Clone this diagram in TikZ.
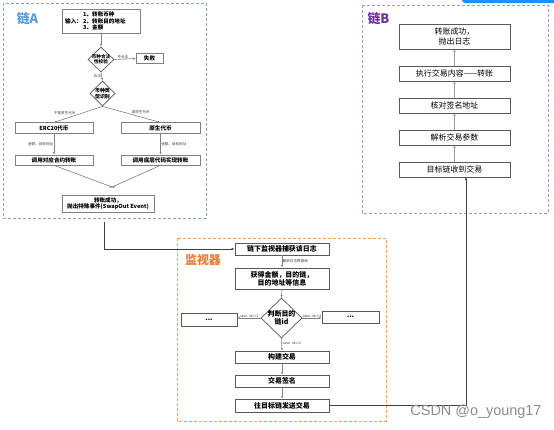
\documentclass[tikz,border=0pt]{standalone}
\usepackage{fontspec}
\setmainfont{Noto Sans CJK SC}
\newfontfamily\csdnfont{Liberation Sans}
\usetikzlibrary{shapes.geometric,arrows.meta,shadows}
\definecolor{frameA}{HTML}{8FA3B8}
\definecolor{labelA}{HTML}{5B9BD5}
\definecolor{frameB}{HTML}{B48FD6}
\definecolor{labelB}{HTML}{7030A0}
\definecolor{frameM}{HTML}{F0A060}
\definecolor{labelM}{HTML}{ED7D31}
\definecolor{boxline}{HTML}{595959}
\definecolor{arrowgray}{HTML}{808080}
\definecolor{topblue}{HTML}{1E90FF}
\tikzset{
  frame/.style={dashed, line width=0.8bp, dash pattern=on 3bp off 2bp},
  boxA/.style={draw=arrowgray, fill=white, line width=0.6bp, inner sep=0pt, align=center,
    font=\bfseries\fontsize{5.6}{6.6}\selectfont, drop shadow={shadow xshift=0.6bp, shadow yshift=-0.6bp, opacity=0.35}},
  boxM/.style={draw=boxline, fill=white, line width=0.7bp, inner sep=0pt, align=center,
    font=\bfseries\fontsize{7}{8.4}\selectfont, drop shadow={shadow xshift=0.7bp, shadow yshift=-0.7bp, opacity=0.35}},
  boxB/.style={draw=boxline, fill=white, line width=0.7bp, inner sep=0pt, align=center,
    font=\fontsize{8}{9.6}\selectfont, drop shadow={shadow xshift=0.8bp, shadow yshift=-0.8bp, opacity=0.35}},
  dia/.style={diamond, draw=boxline, fill=white, line width=0.7bp, inner sep=0pt},
  diatext/.style={align=center, inner sep=0pt},
  tiny/.style={font=\fontsize{3.6}{4}\selectfont, text=black!75, inner sep=0.5bp},
  arrA/.style={draw=arrowgray, line width=0.6bp, -{Latex[length=2.5bp,width=2bp]}},
  lineA/.style={draw=arrowgray, line width=0.6bp},
  arrB/.style={draw=arrowgray!80, line width=1bp, -{Latex[length=2.5bp,width=2.5bp]}},
  arrK/.style={draw=black!75, line width=0.7bp, -{Latex[length=3bp,width=2.5bp]}},
  chainlabel/.style={font=\bfseries\fontsize{13}{14}\selectfont, inner sep=0pt},
}
\begin{document}
\begin{tikzpicture}[x=1bp,y=-1bp]
\useasboundingbox (0,0) rectangle (554,429);
\fill[white] (0,0) rectangle (554,429);
% top blue bar
\fill[topblue, rounded corners=3bp] (462,-10) rectangle (570,3);

% ---------- frames ----------
\draw[frame, draw=frameA] (3,3) rectangle (206,218);
\draw[frame, draw=frameB] (362,5) rectangle (548,213);
\draw[frame, draw=frameM] (177,238) rectangle (386,421);
\node[chainlabel, text=labelA] (labA) at (27.5,18.5) {链A};
\node[chainlabel, text=labelB] (labB) at (378.5,18.5) {链B};
\node[chainlabel, text=labelM, font=\bfseries\fontsize{12}{13}\selectfont] (labM) at (203,260) {监视器};

% ---------- chain A ----------
\node[boxA, minimum width=78bp, minimum height=24bp] (inbox) at (101,21) {};
\node[font=\bfseries\fontsize{5.6}{6.6}\selectfont, inner sep=0pt, anchor=west] (inlab) at (65,21) {输入：};
\node[font=\bfseries\fontsize{5.6}{6.6}\selectfont, inner sep=0pt, anchor=west, align=left] (initems) at (83,21) {1、转账币种\\2、转账目的地址\\3、金额};

\node[dia, minimum width=26bp, minimum height=25bp] (d1) at (101,59.5) {};
\node[diatext, font=\bfseries\fontsize{4.6}{5.4}\selectfont] (d1t) at (d1) {币种合法\\性校验};
\node[boxA, minimum width=27bp, minimum height=10bp] (fail) at (149.5,58.5) {失败};

\node[dia, minimum width=25bp, minimum height=25bp] (d2) at (102.5,93.5) {};
\node[diatext, font=\bfseries\fontsize{5}{5.8}\selectfont] (d2t) at (d2) {币种类\\型识别};

\node[boxA, minimum width=78bp, minimum height=10.5bp] (erc) at (54,128) {ERC20代币};
\node[boxA, minimum width=79bp, minimum height=10.5bp] (nat) at (160.5,128) {原生代币};
\node[boxA, minimum width=78bp, minimum height=10bp] (erc2) at (54,160) {调用对应合约转账};
\node[boxA, minimum width=79bp, minimum height=10bp] (nat2) at (160.5,160) {调用底层代码实现转账};
\coordinate (merge) at (112,187);
\node[boxA, minimum width=92bp, minimum height=17bp] (final) at (108,203.5) {转账成功，\\抛出特殊事件(SwapOut Event)};

\draw[arrA] (inbox.south) -- (d1.north);
\draw[arrA] (d1.east) -- node[tiny, above, pos=0.4] (l1) {不合法} (fail.west);
\draw[arrA] (d1.south) -- node[tiny, left, pos=0.45] (l2) {合法} (d2.north);
\draw[arrA] (d2.south) -- node[tiny, above left, pos=0.55, inner sep=0pt] (l3) {不是原生代币} (erc.north);
\draw[arrA] (d2.south) -- node[tiny, above right, pos=0.5, inner sep=0pt] (l4) {是原生代币} (nat.north);
\draw[arrA] (erc.south) -- node[tiny, left, pos=0.5] (l5) {金额、目标地址} (erc2.north);
\draw[arrA] (nat.south) -- node[tiny, right, pos=0.5] (l6) {金额、目标地址} (nat2.north);
\draw[lineA] (erc2.south) -- (merge);
\draw[lineA] (nat2.south) -- (merge);
\node[tiny, font=\fontsize{3}{3.4}\selectfont] (endlab) at (merge) {end};

% ---------- monitor ----------
\node[boxM, minimum width=94bp, minimum height=12bp] (m1) at (282,249) {链下监视器捕获该日志};
\node[boxM, minimum width=94bp, minimum height=21bp] (m2) at (282,278.5) {获得金额，目的链，\\目的地址等信息};
\node[dia, minimum width=41bp, minimum height=40bp] (md) at (281.5,318) {};
\node[diatext, font=\bfseries\fontsize{7}{8}\selectfont] (mdt) at (md) {判断目的\\链id};
\node[boxM, minimum width=56bp, minimum height=13bp] (mleft) at (209,319.5) {...};
\node[boxM, minimum width=57bp, minimum height=12bp] (mright) at (350.5,317) {...};
\node[boxM, minimum width=94bp, minimum height=12bp] (m3) at (282,357) {构建交易};
\node[boxM, minimum width=94bp, minimum height=12bp] (m4) at (282,381) {交易签名};
\node[boxM, minimum width=94bp, minimum height=13bp] (m5) at (282,405.5) {往目标链发送交易};

\draw[arrA] (m1.south) -- node[tiny, right, pos=0.45] (ml1) {解析日志数据库} (m2.north);
\draw[arrA] (m2.south) -- (md.north);
\draw[arrA] (md.west) -- node[tiny, above, pos=0.5] (ml2) {case: id==1} (mleft.east |- md.west);
\draw[arrA] (md.east) -- node[tiny, above, pos=0.5] (ml3) {case: id==3} (mright.west |- md.east);
\draw[arrA] (md.south) -- node[tiny, right, pos=0.4] (ml4) {case: id==2} (m3.north);
\draw[arrA] (m3.south) -- (m4.north);
\draw[arrA] (m4.south) -- (m5.north);

% ---------- chain B ----------
\node[boxB, minimum width=111bp, minimum height=25bp] (b1) at (454.5,36.5) {转账成功，\\抛出日志};
\node[boxB, minimum width=111bp, minimum height=15bp] (b2) at (454.5,73.5) {执行交易内容——转账};
\node[boxB, minimum width=111bp, minimum height=15bp] (b3) at (454.5,105.5) {核对签名地址};
\node[boxB, minimum width=111bp, minimum height=15bp] (b4) at (454.5,137.5) {解析交易参数};
\node[boxB, minimum width=111bp, minimum height=15bp] (b5) at (454.5,169.5) {目标链收到交易};
\draw[arrB] (b5.north) -- (b4.south);
\draw[arrB] (b4.north) -- (b3.south);
\draw[arrB] (b3.north) -- (b2.south);
\draw[arrB] (b2.north) -- (b1.south);

% ---------- cross connectors ----------
\coordinate (aout) at (104,222);
\draw[arrK] (aout) |- (m1.west);
\coordinate (bin) at (466,177);
\draw[arrK] (m5.east) -| (bin);

\node[font=\csdnfont\fontsize{14.5}{16}\selectfont, text=black!45, inner sep=0pt] (csdn) at (476,412) {CSDN @o\_young17};
\end{tikzpicture}
\end{document}
